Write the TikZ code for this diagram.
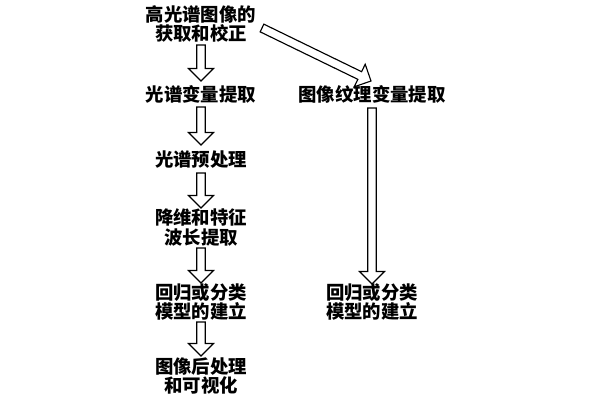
\documentclass[tikz,border=0pt]{standalone}
\usepackage{fontspec}
\newfontfamily\cjk{Noto Sans CJK SC}
\usetikzlibrary{calc}
\tikzset{
  lbl/.style={font=\cjk\bfseries\fontsize{13.8bp}{14.3bp}\selectfont, align=center, inner sep=0pt, text=black},
  blockarr/.style={draw=black, line width=0.85bp, fill=white, line join=miter,
    to path={let \p1=(\tikztostart), \p2=(\tikztotarget), \n1={atan2(\y2-\y1,\x2-\x1)} in
      ($(\p1)+(\n1+90:3.2bp)$) --
      ($(\p2)+(\n1+180:9.4bp)+(\n1+90:3.2bp)$) --
      ($(\p2)+(\n1+180:9.4bp)+(\n1+90:9.4bp)$) --
      (\p2) --
      ($(\p2)+(\n1+180:9.4bp)+(\n1-90:9.4bp)$) --
      ($(\p2)+(\n1+180:9.4bp)+(\n1-90:3.2bp)$) --
      ($(\p1)+(\n1-90:3.2bp)$) -- cycle}}
}
\begin{document}
\begin{tikzpicture}[x=0.75bp,y=-0.75bp]
\useasboundingbox[fill=white] (0,0) rectangle (600,400);
\node[lbl] (n1) at (201,24) {高光谱图像的\\获取和校正};
\node[lbl] (n2) at (201,94) {光谱变量提取};
\node[lbl] (n3) at (372,94) {图像纹理变量提取};
\node[lbl] (n4) at (201,160) {光谱预处理};
\node[lbl] (n5) at (201,227.5) {降维和特征\\波长提取};
\node[lbl] (n6) at (201,302) {回归或分类\\模型的建立};
\node[lbl] (n7) at (372,302) {回归或分类\\模型的建立};
\node[lbl] (n8) at (201,376) {图像后处理\\和可视化};
\draw[blockarr] ($(n1.center)+(0,21)$) to ($(n2.center)+(0,-13)$);
\draw[blockarr] ($(n2.center)+(0,13)$) to ($(n4.center)+(0,-15)$);
\draw[blockarr] ($(n4.center)+(0,13)$) to ($(n5.center)+(0,-19.5)$);
\draw[blockarr] ($(n5.center)+(0,20.5)$) to ($(n6.center)+(0,-19)$);
\draw[blockarr] ($(n6.center)+(0,20)$) to ($(n8.center)+(0,-20)$);
\draw[blockarr] ($(n3.center)+(0,14)$) to ($(n7.center)+(0,-18)$);
\draw[blockarr] ($(n1.center)+(61,4)$) to ($(n3.center)+(-1,-13)$);
\end{tikzpicture}
\end{document}
